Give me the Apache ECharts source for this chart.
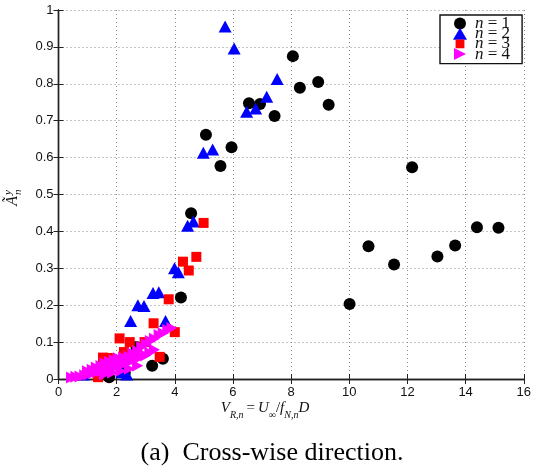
<!DOCTYPE html>
<html>
<head>
<meta charset="utf-8">
<script src="https://cdn.jsdelivr.net/npm/echarts@6/dist/echarts.min.js"></script>
<style>
  html, body { margin: 0; padding: 0; background: #fff; }
  #chart { width: 534px; height: 468px; }
</style>
</head>
<body>
<div id="chart"></div>
<script>
// Reduced velocity V_R,n and cross-wise amplitude for modes n = 1..4
const xTicks = [0, 2, 4, 6, 8, 10, 12, 14, 16];
const yTicks = [0, 0.1, 0.2, 0.3, 0.4, 0.5, 0.6, 0.7, 0.8, 0.9, 1];

const mode1 = [
  [1.74, 0.005], [2.28, 0.017], [2.68, 0.087], [3.22, 0.036], [3.59, 0.055],
  [4.21, 0.221], [4.56, 0.449], [5.07, 0.662], [5.57, 0.577], [5.95, 0.628],
  [6.55, 0.747], [6.93, 0.745], [7.43, 0.713], [8.06, 0.875], [8.30, 0.789],
  [8.93, 0.805], [9.29, 0.743], [10.01, 0.203], [10.66, 0.360], [11.54, 0.310],
  [12.16, 0.574], [13.03, 0.332], [13.64, 0.362], [14.39, 0.411], [15.13, 0.410]
];
const mode2 = [
  [0.85, 0.012], [2.18, 0.018], [2.35, 0.012], [2.48, 0.157], [2.73, 0.200],
  [2.94, 0.198], [3.25, 0.233], [3.45, 0.235], [3.68, 0.157], [3.99, 0.300],
  [4.12, 0.289], [4.44, 0.415], [4.64, 0.427], [4.98, 0.613], [5.30, 0.622],
  [5.73, 0.955], [6.04, 0.896], [6.47, 0.724], [6.78, 0.733], [7.16, 0.765],
  [7.52, 0.813]
];
const mode3 = [
  [1.36, 0.005], [1.53, 0.058], [1.70, 0.057], [2.10, 0.110], [2.25, 0.073],
  [2.45, 0.100], [2.60, 0.064], [2.96, 0.100], [3.27, 0.151], [3.48, 0.060],
  [3.79, 0.216], [4.00, 0.127], [4.28, 0.318], [4.48, 0.294], [4.74, 0.331],
  [4.99, 0.423]
];
const mode4 = [
  [0.45, 0.004], [0.60, 0.006], [0.74, 0.007], [0.90, 0.010], [1.04, 0.012],
  [1.20, 0.016], [1.34, 0.019], [1.50, 0.022], [1.66, 0.027], [1.80, 0.030],
  [1.96, 0.033], [2.10, 0.038], [2.26, 0.041], [2.40, 0.047], [2.56, 0.051],
  [2.70, 0.054], [2.86, 0.061], [3.00, 0.064], [3.14, 0.071], [3.30, 0.079],
  [1.00, 0.021], [1.16, 0.025], [1.30, 0.031], [1.46, 0.035], [1.60, 0.043],
  [1.76, 0.047], [1.92, 0.051], [2.06, 0.056], [2.24, 0.058], [2.42, 0.061],
  [2.56, 0.069], [2.72, 0.076], [2.86, 0.087], [3.02, 0.094], [3.16, 0.103],
  [3.30, 0.109], [3.46, 0.119], [3.60, 0.124], [3.76, 0.133], [3.90, 0.138],
  [1.58, 0.012], [1.86, 0.017], [2.14, 0.022], [2.44, 0.028], [2.72, 0.036]
];

const legendDigits = { n1: '1', n2: '2', n3: '3', n4: '4' };

const rightTri = 'path://M0,0L10,5L0,10Z';
// square with tiny corner specks so the legend keeps it smaller than the row
const smallSquare = 'path://M-1.6,-1.6h0.01v0.01h-0.01z M0,0h9v9h-9z M10.6,10.6h0.01v0.01h-0.01z';

const serif = 'Liberation Serif';
const sans = 'Liberation Sans';
const gridLine = { show: true, lineStyle: { color: '#8a8a8a', width: 1, type: [1, 3] } };
const frameLine = { show: true, lineStyle: { color: '#222', width: 1.4 } };
const innerTick = { show: true, inside: true, length: 5, lineStyle: { color: '#222', width: 1 } };

const chart = echarts.init(document.getElementById('chart'), null, { renderer: 'canvas' });

chart.setOption({
  animation: false,
  backgroundColor: '#fff',
  grid: { left: 58.5, right: 8, top: 10, bottom: 89 },
  legend: {
    data: [
      { name: 'n1', icon: 'circle' },
      { name: 'n2', icon: 'triangle' },
      { name: 'n3', icon: smallSquare },
      { name: 'n4', icon: rightTri }
    ],
    orient: 'vertical',
    left: 440,
    top: 15,
    itemWidth: 14,
    itemHeight: 12,
    itemGap: -6.8,
    padding: [0, 12, 1, 13],
    borderColor: '#111',
    borderWidth: 1.4,
    borderRadius: 0,
    backgroundColor: '#fff',
    selectedMode: false,
    formatter: name => '{i|n}{r| = ' + legendDigits[name] + '}',
    textStyle: {
      color: '#111',
      fontSize: 17,
      lineHeight: 10,
      height: 10,
      rich: {
        i: { fontFamily: serif, fontStyle: 'italic', fontSize: 17, lineHeight: 10, padding: [0, 0, 0, 3] },
        r: { fontFamily: serif, fontSize: 17, lineHeight: 10 }
      }
    }
  },
  xAxis: [
    {
      type: 'value', min: 0, max: 16, interval: 2, position: 'bottom',
      axisLine: frameLine, axisTick: innerTick, splitLine: gridLine,
      axisLabel: {
        color: '#111', fontFamily: sans, fontSize: 13, margin: 7,
        customValues: xTicks
      }
    },
    {
      type: 'value', min: 0, max: 16, interval: 2, position: 'top',
      axisLine: frameLine, axisTick: innerTick, splitLine: { show: false },
      axisLabel: { show: false }
    }
  ],
  yAxis: [
    {
      type: 'value', min: 0, max: 1, interval: 0.1, position: 'left',
      axisLine: frameLine, axisTick: innerTick, splitLine: gridLine,
      axisLabel: {
        color: '#111', fontFamily: sans, fontSize: 13, margin: 5,
        customValues: yTicks
      }
    },
    {
      type: 'value', min: 0, max: 1, interval: 0.1, position: 'right',
      axisLine: frameLine, axisTick: innerTick, splitLine: { show: false },
      axisLabel: { show: false }
    }
  ],
  series: [
    {
      name: 'n1', type: 'scatter', data: mode1, symbol: 'circle', symbolSize: 12,
      itemStyle: { color: '#000', opacity: 1 }
    },
    {
      name: 'n2', type: 'scatter', data: mode2, symbol: 'triangle', symbolSize: [13, 12],
      itemStyle: { color: '#0000ff', opacity: 1 }
    },
    {
      name: 'n3', type: 'scatter', data: mode3, symbol: 'rect', symbolSize: 10,
      itemStyle: { color: '#ff0000', opacity: 1 }
    },
    {
      name: 'n4', type: 'scatter', data: mode4, symbol: rightTri, symbolSize: [11, 12],
      itemStyle: { color: '#ff00ff', opacity: 1 }
    }
  ],
  graphic: [
    {
      // horizontal axis title: V_{R,n} = U_inf / f_{N,n} D
      type: 'text', x: 265, y: 401, z: 10,
      style: {
        text: '{i|V}{s|R,n}{u|\u2009=\u2009}{i|U}{su|∞}{u|/}{i|f}{s|N,n}{i|D}',
        fill: '#111',
        align: 'center',
        verticalAlign: 'top',
        rich: {
          i: { fontFamily: serif, fontStyle: 'italic', fontSize: 15, lineHeight: 15, verticalAlign: 'top' },
          u: { fontFamily: serif, fontSize: 15, lineHeight: 15, verticalAlign: 'top' },
          s: { fontFamily: serif, fontStyle: 'italic', fontSize: 10, lineHeight: 19, verticalAlign: 'bottom' },
          su: { fontFamily: serif, fontSize: 10, lineHeight: 19, verticalAlign: 'bottom' }
        }
      }
    },
    {
      // vertical axis title: A-tilde with superscript y and subscript n
      type: 'group', x: 13, y: 196, rotation: Math.PI / 2, z: 10,
      children: [
        { type: 'text', x: 0, y: 0, style: { text: 'Ã', fill: '#111', font: 'italic 16px ' + serif, textAlign: 'right', textVerticalAlign: 'middle' } },
        { type: 'text', x: 1, y: -5, style: { text: 'y', fill: '#111', font: 'italic 11px ' + serif, textAlign: 'left', textVerticalAlign: 'middle' } },
        { type: 'text', x: 1, y: 5, style: { text: 'n', fill: '#111', font: 'italic 11px ' + serif, textAlign: 'left', textVerticalAlign: 'middle' } }
      ]
    },
    {
      type: 'text', x: 272, y: 453, z: 10,
      style: {
        text: '(a)  Cross-wise direction.', fill: '#000', font: '26px ' + serif,
        align: 'center', verticalAlign: 'middle'
      }
    }
  ]
});
</script>
</body>
</html>
